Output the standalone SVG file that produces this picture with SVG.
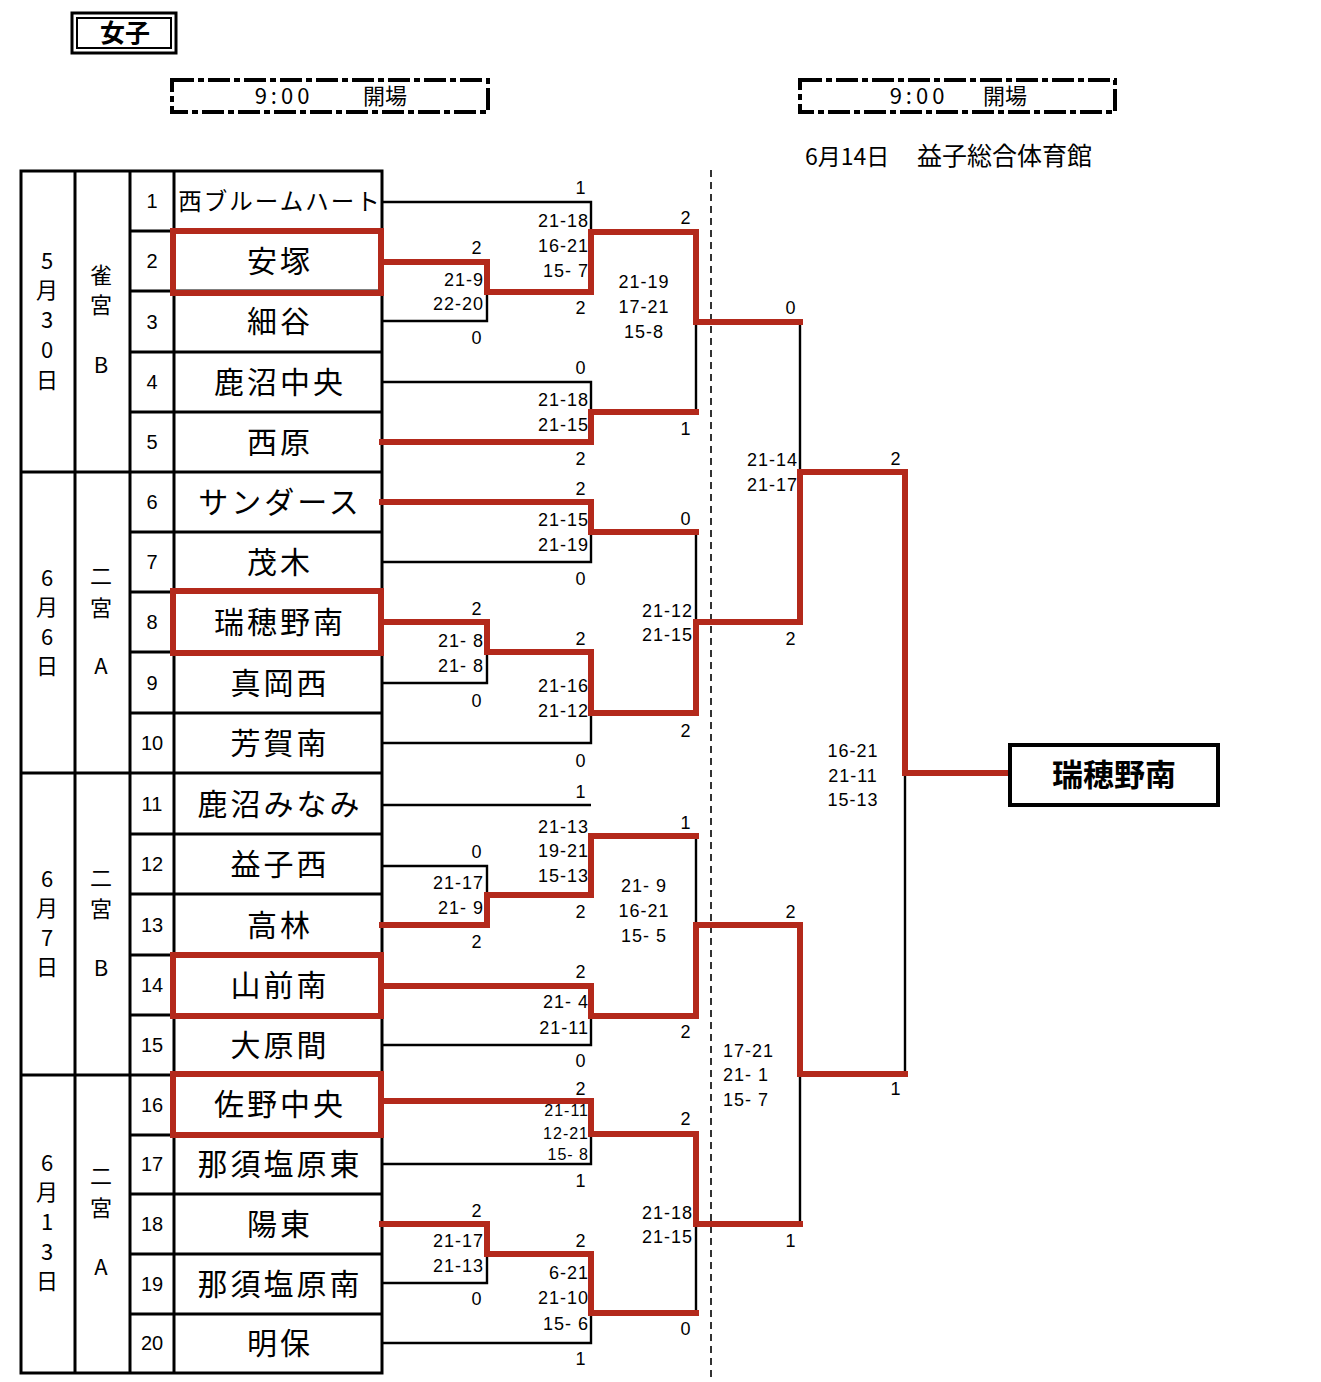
<svg xmlns="http://www.w3.org/2000/svg" width="1321" height="1382" viewBox="0 0 1321 1382">
<style>
.jp{font-family:"Noto Sans CJK JP","Noto Sans",sans-serif;fill:#000}
.tm{font-family:"Noto Sans CJK JP",sans-serif;font-size:30px;letter-spacing:3px;text-anchor:middle;fill:#000}
.num{font-family:"Liberation Sans","Noto Sans",sans-serif;font-size:20px;text-anchor:middle;fill:#000}
.vt{font-family:"Noto Sans CJK JP",sans-serif;font-size:22px;text-anchor:middle;fill:#000}
.sc{font-family:"Liberation Sans",Arial,sans-serif;font-size:18px;letter-spacing:1px;fill:#000}
.e{text-anchor:end}
.m{text-anchor:middle}
.cell{fill:none;stroke:#000;stroke-width:3}
.blk{fill:none;stroke:#000;stroke-width:2.4}
.red{fill:none;stroke:#b3291b;stroke-width:6;stroke-linejoin:miter;stroke-linecap:square}
.rbox{fill:none;stroke:#b3291b;stroke-width:6}
.dbox{fill:none;stroke:#000;stroke-width:4;stroke-dasharray:22 4 6 4}
</style>
<rect width="1321" height="1382" fill="#fff"/>

<g id="title">
<rect x="72" y="13" width="104" height="40" fill="none" stroke="#000" stroke-width="3"/>
<rect x="77" y="18" width="94" height="30" fill="none" stroke="#000" stroke-width="2"/>
<text x="125" y="42" class="jp m" font-size="25" font-weight="bold">女子</text>
</g>

<g id="open1">
<rect x="172" y="80" width="316" height="32" class="dbox"/>
<text x="284" y="104" class="jp m" font-size="22" letter-spacing="4">9:00</text>
<text x="385" y="104" class="jp m" font-size="22">開場</text>
</g>
<g id="open2">
<rect x="800" y="80" width="315" height="32" class="dbox"/>
<text x="919" y="104" class="jp m" font-size="22" letter-spacing="4">9:00</text>
<text x="1005" y="104" class="jp m" font-size="22">開場</text>
</g>
<g id="venue">
<text x="805" y="165" class="jp" font-size="23">6月14日</text>
<text x="917" y="165" class="jp" font-size="25">益子総合体育館</text>
</g>

<g id="table">
<rect x="21" y="171" width="361" height="1202" class="cell"/>
<line x1="75" y1="171" x2="75" y2="1373" class="cell"/>
<line x1="130" y1="171" x2="130" y2="1373" class="cell"/>
<line x1="174" y1="171" x2="174" y2="1373" class="cell"/>
<path class="cell" d="M21,472H382M21,773H382M21,1075H382M130,231H382M130,291H382M130,352H382M130,412H382M130,532H382M130,592H382M130,652H382M130,713H382M130,834H382M130,894H382M130,955H382M130,1015H382M130,1135H382M130,1194H382M130,1254H382M130,1314H382"/>
</g>

<g id="group1">
<text x="47" y="269" class="vt">5</text><text x="47" y="298" class="vt">月</text><text x="47" y="328" class="vt">3</text><text x="47" y="358" class="vt">0</text><text x="47" y="388" class="vt">日</text>
<text x="101" y="283" class="vt">雀</text><text x="101" y="313" class="vt">宮</text><text x="101" y="373" class="vt">B</text>
</g>
<g id="group2">
<text x="47" y="586" class="vt">6</text><text x="47" y="615" class="vt">月</text><text x="47" y="645" class="vt">6</text><text x="47" y="674" class="vt">日</text>
<text x="101" y="584" class="vt">二</text><text x="101" y="616" class="vt">宮</text><text x="101" y="674" class="vt">A</text>
</g>
<g id="group3">
<text x="47" y="887" class="vt">6</text><text x="47" y="916" class="vt">月</text><text x="47" y="946" class="vt">7</text><text x="47" y="975" class="vt">日</text>
<text x="101" y="886" class="vt">二</text><text x="101" y="917" class="vt">宮</text><text x="101" y="976" class="vt">B</text>
</g>
<g id="group4">
<text x="47" y="1171" class="vt">6</text><text x="47" y="1200" class="vt">月</text><text x="47" y="1230" class="vt">1</text><text x="47" y="1260" class="vt">3</text><text x="47" y="1289" class="vt">日</text>
<text x="101" y="1184" class="vt">二</text><text x="101" y="1216" class="vt">宮</text><text x="101" y="1275" class="vt">A</text>
</g>

<g id="team1"><text x="152" y="208" class="num">1</text><text x="280" y="210" class="tm" style="font-size:23.5px;letter-spacing:2px">西ブルームハート</text></g>
<g id="team2"><text x="152" y="268" class="num">2</text><text x="280" y="272" class="tm">安塚</text></g>
<g id="team3"><text x="152" y="329" class="num">3</text><text x="280" y="332" class="tm">細谷</text></g>
<g id="team4"><text x="152" y="389" class="num">4</text><text x="280" y="393" class="tm">鹿沼中央</text></g>
<g id="team5"><text x="152" y="449" class="num">5</text><text x="280" y="453" class="tm">西原</text></g>
<g id="team6"><text x="152" y="509" class="num">6</text><text x="280" y="513" class="tm">サンダース</text></g>
<g id="team7"><text x="152" y="569" class="num">7</text><text x="280" y="573" class="tm">茂木</text></g>
<g id="team8"><text x="152" y="629" class="num">8</text><text x="280" y="633" class="tm">瑞穂野南</text></g>
<g id="team9"><text x="152" y="690" class="num">9</text><text x="280" y="694" class="tm">真岡西</text></g>
<g id="team10"><text x="152" y="750" class="num">10</text><text x="280" y="754" class="tm">芳賀南</text></g>
<g id="team11"><text x="152" y="811" class="num">11</text><text x="280" y="815" class="tm">鹿沼みなみ</text></g>
<g id="team12"><text x="152" y="871" class="num">12</text><text x="280" y="875" class="tm">益子西</text></g>
<g id="team13"><text x="152" y="932" class="num">13</text><text x="280" y="936" class="tm">高林</text></g>
<g id="team14"><text x="152" y="992" class="num">14</text><text x="280" y="996" class="tm">山前南</text></g>
<g id="team15"><text x="152" y="1052" class="num">15</text><text x="280" y="1056" class="tm">大原間</text></g>
<g id="team16"><text x="152" y="1112" class="num">16</text><text x="280" y="1115" class="tm">佐野中央</text></g>
<g id="team17"><text x="152" y="1171" class="num">17</text><text x="280" y="1175" class="tm">那須塩原東</text></g>
<g id="team18"><text x="152" y="1231" class="num">18</text><text x="280" y="1235" class="tm">陽東</text></g>
<g id="team19"><text x="152" y="1291" class="num">19</text><text x="280" y="1295" class="tm">那須塩原南</text></g>
<g id="team20"><text x="152" y="1350" class="num">20</text><text x="280" y="1354" class="tm">明保</text></g>

<g id="highlights">
<rect x="173" y="231" width="208" height="62" class="rbox"/>
<rect x="173" y="591" width="208" height="62" class="rbox"/>
<rect x="173" y="955" width="208" height="61" class="rbox"/>
<rect x="173" y="1074" width="208" height="61" class="rbox"/>
</g>

<g id="connectors">
<line x1="711" y1="170" x2="711" y2="1382" stroke="#333" stroke-width="2" stroke-dasharray="7 5"/>
<path class="blk" d="M382,202H591V292M382,321H487V292M382,382H591V412M696,322V412
M382,562H591V532M696,532V622M382,683H487V652M382,743H591V713
M382,805H591M382,866H487V895M696,836V925M382,1045H591V1016
M382,1164H591V1134M382,1283H487V1254M382,1343H591V1313M696,1313V1224
M800,322V472M800,1224V1074M905,773V1074"/>
<path class="red" d="M382,262H487V292H591V232H696V322H800"/>
<path class="red" d="M382,442H591V412H696"/>
<path class="red" d="M382,502H591V532H696"/>
<path class="red" d="M382,622H487V652H591V713H696V622H800V472H905V773H1010"/>
<path class="red" d="M382,925H487V895H591V836H696"/>
<path class="red" d="M382,986H591V1016H696V925H800V1074H905"/>
<path class="red" d="M382,1101H591V1134H696V1224H800"/>
<path class="red" d="M382,1224H487V1254H591V1313H696"/>
</g>

<g id="scores">
<text x="581" y="194" class="sc m">1</text>
<text x="589" y="227" class="sc e">21-18</text><text x="589" y="252" class="sc e">16-21</text><text x="589" y="277" class="sc e">15- 7</text>
<text x="477" y="254" class="sc m">2</text>
<text x="484" y="286" class="sc e">21-9</text><text x="484" y="310" class="sc e">22-20</text>
<text x="477" y="344" class="sc m">0</text>
<text x="581" y="314" class="sc m">2</text>
<text x="686" y="224" class="sc m">2</text>
<text x="644" y="288" class="sc m">21-19</text><text x="644" y="313" class="sc m">17-21</text><text x="644" y="338" class="sc m">15-8</text>
<text x="581" y="374" class="sc m">0</text>
<text x="589" y="406" class="sc e">21-18</text><text x="589" y="431" class="sc e">21-15</text>
<text x="686" y="435" class="sc m">1</text>
<text x="581" y="465" class="sc m">2</text>

<text x="581" y="495" class="sc m">2</text>
<text x="589" y="526" class="sc e">21-15</text><text x="589" y="551" class="sc e">21-19</text>
<text x="686" y="525" class="sc m">0</text>
<text x="581" y="585" class="sc m">0</text>
<text x="477" y="615" class="sc m">2</text>
<text x="484" y="647" class="sc e">21- 8</text><text x="484" y="672" class="sc e">21- 8</text>
<text x="477" y="707" class="sc m">0</text>
<text x="581" y="645" class="sc m">2</text>
<text x="589" y="692" class="sc e">21-16</text><text x="589" y="717" class="sc e">21-12</text>
<text x="693" y="617" class="sc e">21-12</text><text x="693" y="641" class="sc e">21-15</text>
<text x="686" y="737" class="sc m">2</text>
<text x="581" y="767" class="sc m">0</text>

<text x="581" y="798" class="sc m">1</text>
<text x="589" y="833" class="sc e">21-13</text><text x="589" y="857" class="sc e">19-21</text><text x="589" y="882" class="sc e">15-13</text>
<text x="686" y="829" class="sc m">1</text>
<text x="477" y="858" class="sc m">0</text>
<text x="484" y="889" class="sc e">21-17</text><text x="484" y="914" class="sc e">21- 9</text>
<text x="581" y="918" class="sc m">2</text>
<text x="477" y="948" class="sc m">2</text>
<text x="644" y="892" class="sc m">21- 9</text><text x="644" y="917" class="sc m">16-21</text><text x="644" y="942" class="sc m">15- 5</text>
<text x="581" y="978" class="sc m">2</text>
<text x="589" y="1008" class="sc e">21- 4</text><text x="589" y="1034" class="sc e">21-11</text>
<text x="686" y="1038" class="sc m">2</text>
<text x="581" y="1067" class="sc m">0</text>

<text x="581" y="1095" class="sc m">2</text>
<text x="589" y="1116" class="sc e" style="font-size:16px">21-11</text><text x="589" y="1139" class="sc e" style="font-size:16px">12-21</text><text x="589" y="1160" class="sc e" style="font-size:16px">15- 8</text>
<text x="686" y="1125" class="sc m">2</text>
<text x="581" y="1187" class="sc m">1</text>
<text x="477" y="1217" class="sc m">2</text>
<text x="484" y="1247" class="sc e">21-17</text><text x="484" y="1272" class="sc e">21-13</text>
<text x="477" y="1305" class="sc m">0</text>
<text x="581" y="1247" class="sc m">2</text>
<text x="589" y="1279" class="sc e">6-21</text><text x="589" y="1304" class="sc e">21-10</text><text x="589" y="1330" class="sc e">15- 6</text>
<text x="693" y="1219" class="sc e">21-18</text><text x="693" y="1243" class="sc e">21-15</text>
<text x="686" y="1335" class="sc m">0</text>
<text x="581" y="1365" class="sc m">1</text>

<text x="791" y="314" class="sc m">0</text>
<text x="798" y="466" class="sc e">21-14</text><text x="798" y="491" class="sc e">21-17</text>
<text x="896" y="465" class="sc m">2</text>
<text x="791" y="645" class="sc m">2</text>
<text x="853" y="757" class="sc m">16-21</text><text x="853" y="782" class="sc m">21-11</text><text x="853" y="806" class="sc m">15-13</text>
<text x="791" y="918" class="sc m">2</text>
<text x="723" y="1057" class="sc">17-21</text><text x="723" y="1081" class="sc">21- 1</text><text x="723" y="1106" class="sc">15- 7</text>
<text x="791" y="1247" class="sc m">1</text>
<text x="896" y="1095" class="sc m">1</text>
</g>

<g id="champion">
<rect x="1010" y="745" width="208" height="60" fill="#fff" stroke="#000" stroke-width="4"/>
<text x="1114" y="786" class="jp m" font-size="31" font-weight="bold">瑞穂野南</text>
</g>
</svg>
